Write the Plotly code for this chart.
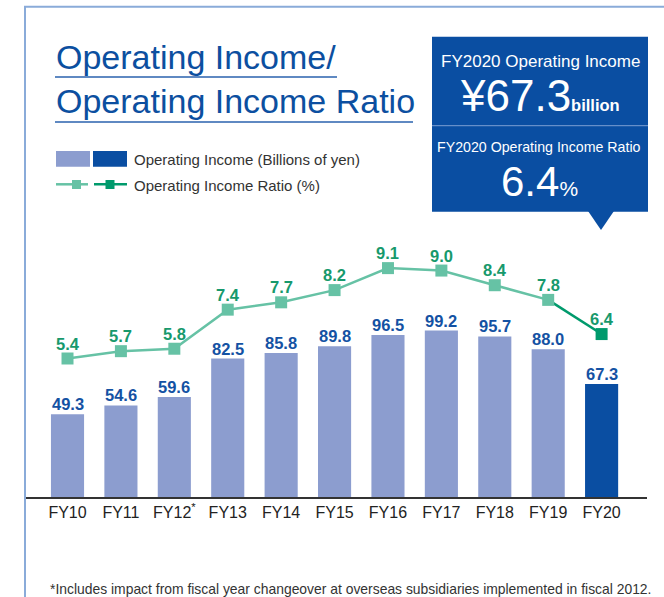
import plotly.graph_objects as go

# ---------------- data ----------------
categories = ["FY10", "FY11", "FY12", "FY13", "FY14", "FY15", "FY16", "FY17", "FY18", "FY19", "FY20"]
tick_labels = ["FY10", "FY11", "FY12<sup>*</sup>", "FY13", "FY14", "FY15", "FY16", "FY17", "FY18", "FY19", "FY20"]
operating_income = [49.3, 54.6, 59.6, 82.5, 85.8, 89.8, 96.5, 99.2, 95.7, 88.0, 67.3]
operating_ratio = [5.4, 5.7, 5.8, 7.4, 7.7, 8.2, 9.1, 9.0, 8.4, 7.8, 6.4]

# ---------------- style ----------------
W, H = 664, 597
ML, MR, MT, MB = 25, 17, 220, 100
PW, PH = W - ML - MR, H - MT - MB
BASE_Y = MT + PH

LIGHT_BAR = "#8c9dcf"
DARK_BAR = "#0a4ea2"
LIGHT_LINE = "#66c2a5"
DARK_LINE = "#009a6c"
BLUE_TXT = "#1452a3"
GREEN_TXT = "#17996c"
TITLE_C = "#0c4fa0"
FRAME_C = "#8aabd9"

SANS = "Liberation Sans, Arial, Helvetica, sans-serif"


def px(x):
    return (x - ML) / PW


def py(y):
    return (BASE_Y - y) / PH


n = len(categories)
bar_colors = [LIGHT_BAR] * (n - 1) + [DARK_BAR]

fig = go.Figure()

fig.add_trace(go.Bar(
    x=categories, y=operating_income, marker=dict(color=bar_colors, line=dict(width=0)),
    width=0.62, hoverinfo="skip", showlegend=False,
))

# dark last segment
fig.add_trace(go.Scatter(
    x=categories[-2:], y=operating_ratio[-2:], yaxis="y2", mode="lines",
    line=dict(color=DARK_LINE, width=2.5), showlegend=False, hoverinfo="skip",
))
fig.add_trace(go.Scatter(
    x=categories[:-1], y=operating_ratio[:-1], yaxis="y2", mode="lines+markers",
    line=dict(color=LIGHT_LINE, width=2.5),
    marker=dict(symbol="square", size=12, color=LIGHT_LINE),
    showlegend=False, hoverinfo="skip",
))
fig.add_trace(go.Scatter(
    x=categories[-1:], y=operating_ratio[-1:], yaxis="y2", mode="markers",
    marker=dict(symbol="square", size=12, color=DARK_LINE),
    showlegend=False, hoverinfo="skip",
))

annotations = []
for c, v in zip(categories, operating_income):
    annotations.append(dict(x=c, y=v, xref="x", yref="y", text=f"<b>{v:.1f}</b>",
                            showarrow=False, yanchor="bottom", yshift=-1,
                            font=dict(family=SANS, size=16.5, color=BLUE_TXT)))
for c, v in zip(categories, operating_ratio):
    annotations.append(dict(x=c, y=v, xref="x", yref="y2", text=f"<b>{v:.1f}</b>",
                            showarrow=False, yanchor="bottom", yshift=4,
                            font=dict(family=SANS, size=16.5, color=GREEN_TXT)))


def ann(x, y, text, size, color, family=SANS, xanchor="left"):
    annotations.append(dict(x=px(x), y=py(y), xref="paper", yref="paper", text=text,
                            showarrow=False, xanchor=xanchor, yanchor="middle",
                            font=dict(family=family, size=size, color=color)))


# title
ann(54, 57, "Operating Income/", 34, TITLE_C)
ann(54, 101, "Operating Income Ratio", 34, TITLE_C)
# box texts
ann(540, 61, "FY2020 Operating Income", 17, "white", xanchor="center")
ann(540, 95, "¥67.3<span style='font-size:16.5px'><b>billion</b></span>", 44, "white", xanchor="center")
ann(539, 147, "FY2020 Operating Income Ratio", 14.2, "white", xanchor="center")
ann(539, 181, "6.4<span style='font-size:21px'>%</span>", 42, "white", xanchor="center")
# legend texts
ann(132, 159, "Operating Income (Billions of yen)", 15, "#333333")
ann(132, 185, "Operating Income Ratio (%)", 15, "#333333")
# footnote
ann(48, 589, "*Includes impact from fiscal year changeover at overseas subsidiaries implemented in fiscal 2012.",
    13.9, "#333333")

shapes = []


def rect(x0, y0, x1, y1, color):
    shapes.append(dict(type="rect", xref="paper", yref="paper", x0=px(x0), x1=px(x1),
                       y0=py(y0), y1=py(y1), fillcolor=color, line=dict(width=0), layer="above"))


def line(x0, y0, x1, y1, color, width):
    shapes.append(dict(type="line", xref="paper", yref="paper", x0=px(x0), x1=px(x1),
                       y0=py(y0), y1=py(y1), line=dict(color=color, width=width), layer="above"))


# frame
line(25, 6.7, 25, 600, FRAME_C, 2)
line(24, 6.7, 668, 6.7, FRAME_C, 2)
# title underlines
line(55, 77, 337, 77, "#2a62ae", 1.3)
line(55, 122, 413, 122, "#2a62ae", 1.3)
# info box
rect(432, 36.7, 648, 211.7, DARK_BAR)
line(432, 125.7, 648, 125.7, "#7d9fd2", 1)
shapes.append(dict(type="path", xref="paper", yref="paper",
                   path=f"M {px(588)},{py(211)} L {px(614)},{py(211)} L {px(601)},{py(230)} Z",
                   fillcolor=DARK_BAR, line=dict(width=0), layer="above"))
# legend symbols
rect(56, 151, 90, 166.7, LIGHT_BAR)
rect(93, 151, 127, 166.7, DARK_BAR)
line(56, 184.3, 88, 184.3, LIGHT_LINE, 2.5)
rect(72, 180, 81, 189, LIGHT_LINE)
line(94, 184.3, 127, 184.3, DARK_LINE, 2.5)
rect(105.5, 180, 114.5, 189, DARK_LINE)

fig.update_layout(
    width=W, height=H,
    margin=dict(l=ML, r=MR, t=MT, b=MB, pad=0),
    paper_bgcolor="white", plot_bgcolor="white",
    bargap=0.38,
    xaxis=dict(type="category", categoryorder="array", categoryarray=categories,
               tickvals=categories, ticktext=tick_labels,
               range=[-0.796, 10.85], showline=True, linecolor="#333333", linewidth=1.5,
               ticks="", showgrid=False, zeroline=False, fixedrange=True,
               tickfont=dict(family=SANS, size=16, color="#222222")),
    yaxis=dict(range=[0, 165.1], visible=False, showgrid=False, zeroline=False),
    yaxis2=dict(range=[-0.27, 11.07], overlaying="y", visible=False, showgrid=False, zeroline=False),
    annotations=annotations,
    shapes=shapes,
    showlegend=False,
)

fig.write_html("out.html", config={"displayModeBar": False},
               post_script="document.body.style.margin='0';document.body.style.overflow='hidden';")
